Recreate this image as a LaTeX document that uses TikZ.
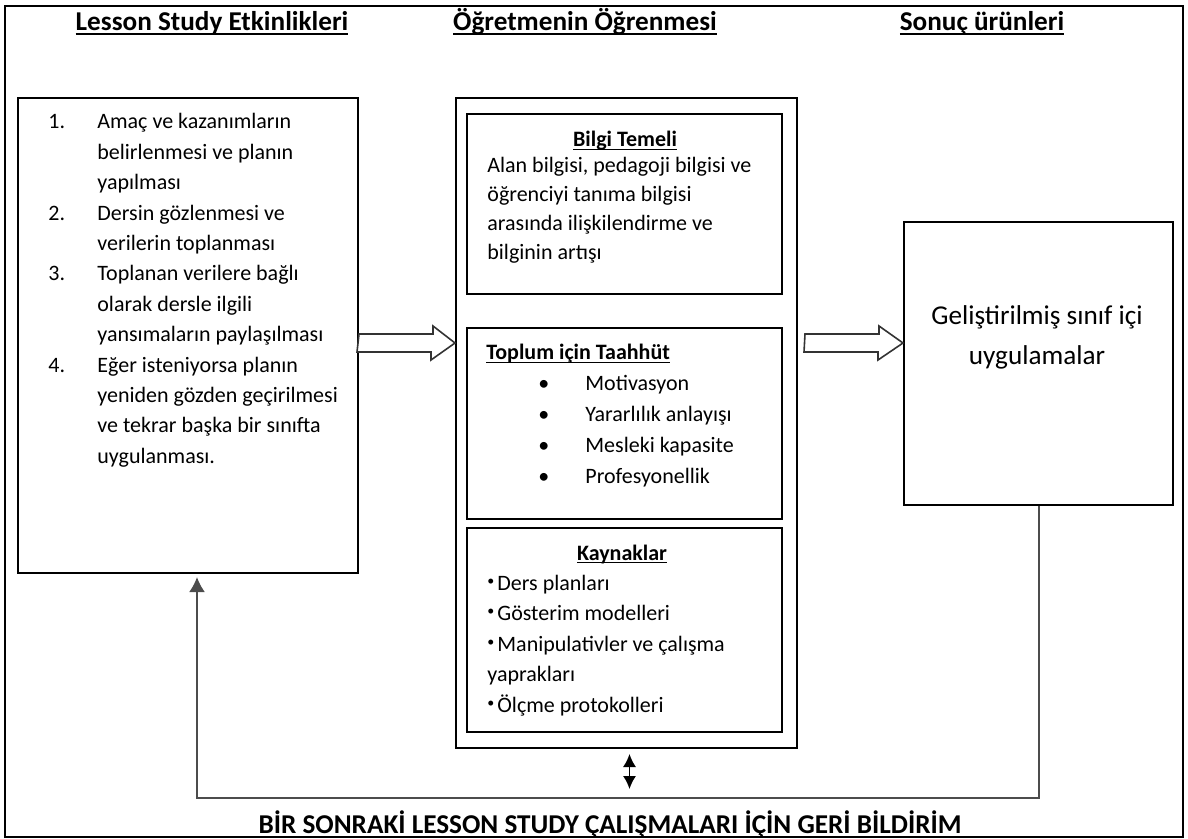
\documentclass[tikz,border=0pt]{standalone}
\usepackage{fontspec}
\setmainfont{Carlito}
\usepackage{tikz}
\usetikzlibrary{arrows.meta,positioning}
\newsavebox{\ulbox}
\newcommand{\ulin}[2][1.9pt]{\sbox\ulbox{#2}\rlap{\rule[-#1]{\wd\ulbox}{0.7pt}}\usebox\ulbox}
\newcommand{\kbul}{\makebox[5pt][l]{\raisebox{0.45ex}{\scriptsize\textbullet}}}

\begin{document}
\begin{tikzpicture}[x=0.5pt,y=-0.5pt]
	\tikzset{box/.style={draw,line width=1pt,anchor=north west,inner sep=0pt}}
	\tikzset{ttl/.style={font=\fontsize{13.6}{16}\selectfont\bfseries,anchor=base,inner sep=0pt}}
	\tikzset{subttl/.style={font=\fontsize{11}{14}\selectfont\bfseries,anchor=base,inner sep=0pt}}
	\tikzset{body/.style={font=\fontsize{11}{#1}\selectfont,anchor=base west,inner sep=0pt},body/.default=15.2pt}
	\tikzset{blockarrow/.style={draw=black!80,line width=0.8pt,fill=white,line join=miter}}
	\tikzset{feedback/.style={draw=black!70,line width=1pt,-{Latex[length=7.5pt,width=8pt]}}}
	\useasboundingbox (0,0) rectangle (1188,839);
	\draw[line width=1pt] (5,6) rectangle (1183,837);
	\node[ttl] (ttlsteps) at (212,31) {\ulin{Lesson Study Etkinlikleri}};
	\node[ttl] (ttllearn) at (585,31) {\ulin{Öğretmenin Öğrenmesi}};
	\node[ttl] (ttlresult) at (982,31) {\ulin{Sonuç ürünleri}};
	\node[box,minimum width=170pt,minimum height=237.5pt] (steps) at (17,97) {};
	\node[box,minimum width=170.5pt,minimum height=325pt] (learn) at (455,97) {};
	\node[box,minimum width=157.5pt,minimum height=90pt] (bilgi) at (466,113) {};
	\node[box,minimum width=157.5pt,minimum height=95.5pt] (toplum) at (466,327) {};
	\node[box,minimum width=157.5pt,minimum height=102pt] (kaynak) at (466,527) {};
	\node[box,minimum width=134.5pt,minimum height=141.5pt] (result) at (903,221) {};
	\node[body] (stepslist) at (48,129) {\begin{tabular}[t]{@{}p{24.5pt}@{}l@{}}
		1. & Amaç ve kazanımların\\ & belirlenmesi ve planın\\ & yapılması\\
		2. & Dersin gözlenmesi ve\\ & verilerin toplanması\\
		3. & Toplanan verilere bağlı\\ & olarak dersle ilgili\\ & yansımaların paylaşılması\\
		4. & Eğer isteniyorsa planın\\ & yeniden gözden geçirilmesi\\ & ve tekrar başka bir sınıfta\\ & uygulanması.
	\end{tabular}};
	\node[subttl] (bilgittl) at (625,147) {\ulin[1.5pt]{Bilgi Temeli}};
	\node[body=14.5pt] (bilgitext) at (487,173) {\begin{tabular}[t]{@{}l@{}}
		Alan bilgisi, pedagoji bilgisi ve\\ öğrenciyi tanıma bilgisi\\ arasında ilişkilendirme ve\\ bilginin artışı
	\end{tabular}};
	\node[subttl,anchor=base west] (toplumttl) at (486,360) {\ulin[1.5pt]{Toplum için Taahhüt}};
	\node[body=15.5pt] (toplumlist) at (538,391) {\begin{tabular}[t]{@{}p{23.5pt}@{}l@{}}
		\textbullet & Motivasyon\\ \textbullet & Yararlılık anlayışı\\ \textbullet & Mesleki kapasite\\ \textbullet & Profesyonellik
	\end{tabular}};
	\node[subttl] (kaynakttl) at (622,560) {\ulin[1.5pt]{Kaynaklar}};
	\node[body=15.25pt] (kaynaklist) at (487,590) {\begin{tabular}[t]{@{}l@{}}
		\kbul Ders planları\\ \kbul Gösterim modelleri\\ \kbul Manipulativler ve çalışma\\ yaprakları\\ \kbul Ölçme protokolleri
	\end{tabular}};
	\node[font=\fontsize{13.6}{20}\selectfont,anchor=base,inner sep=0pt] (resulttext) at (1037,325) {\begin{tabular}[t]{@{}c@{}}
		Geliştirilmiş sınıf içi\\ uygulamalar
	\end{tabular}};
	\node[ttl] (fbtext) at (610,833) {BİR SONRAKİ LESSON STUDY ÇALIŞMALARI İÇİN GERİ BİLDİRİM};
	\coordinate (arrowline) at (0,343);
	\coordinate (fbline) at (0,798);
	\coordinate (fbend) at (197,577);
	\draw[blockarrow] (steps.east |- arrowline) ++(0,-9) -- ++(74,0) -- ++(0,-8) -- (learn.west |- arrowline) -- ++(-24,17) -- ++(0,-8) -- ++(-74,0) -- cycle;
	\draw[blockarrow] (learn.east |- arrowline) ++(7,-9) -- ++(74,0) -- ++(0,-8) -- (result.west |- arrowline) -- ++(-25,17) -- ++(0,-8) -- ++(-74,0) -- cycle;
	\draw[feedback] (result.south) -- (result.south |- fbline) -| (fbend);
	\draw[line width=0.7pt,{Latex[length=6.5pt,width=6.5pt]}-{Latex[length=6.5pt,width=6.5pt]}] ([shift={(3,5)}]learn.south) -- ++(0,35);
\end{tikzpicture}
\end{document}
